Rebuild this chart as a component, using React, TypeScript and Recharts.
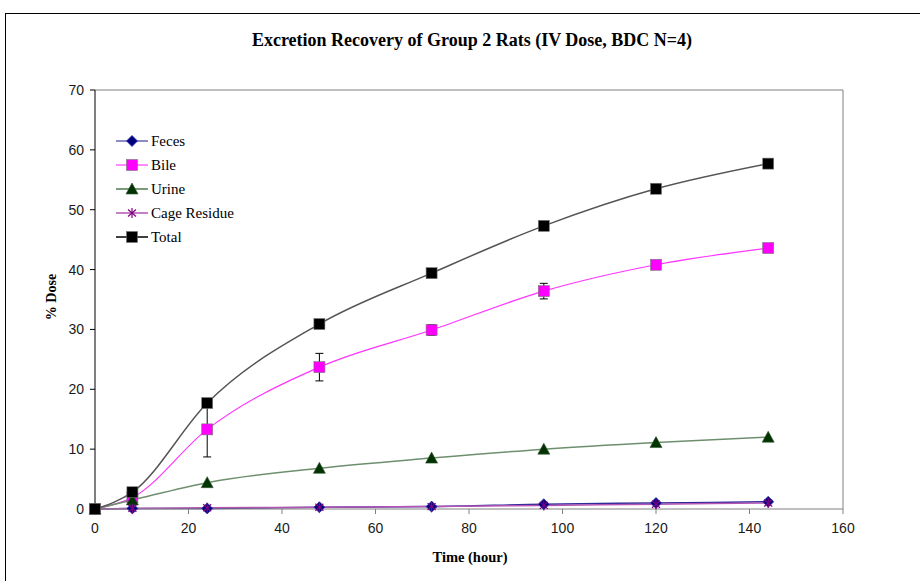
import React from 'react';
import { LineChart, Line, XAxis, YAxis, ErrorBar, ReferenceLine } from 'recharts';

// sampling times (hours) and cumulative % of dose recovered
const hours = [0, 8, 24, 48, 72, 96, 120, 144];
const feces = [0, 0.1, 0.1, 0.3, 0.4, 0.8, 1.0, 1.2];
const bile = [0, 1.9, 13.3, 23.7, 29.9, 36.4, 40.8, 43.6];
const bileSd = [0, 0, 4.6, 2.3, 0.9, 1.3, 0.4, 0.3];
const urine = [0, 1.5, 4.4, 6.8, 8.5, 10.0, 11.1, 12.0];
const cageResidue = [0, 0.1, 0.2, 0.3, 0.4, 0.6, 0.8, 1.0];
const total = [0, 2.8, 17.7, 30.9, 39.4, 47.3, 53.5, 57.7];

const xTicks = [0, 20, 40, 60, 80, 100, 120, 140, 160];
const yTicks = [0, 10, 20, 30, 40, 50, 60, 70];

const data = hours.map((h, i) => ({
  hour: h,
  feces: feces[i],
  bile: bile[i],
  bileSd: bileSd[i],
  urine: urine[i],
  cage: cageResidue[i],
  total: total[i],
}));

type Shape = 'diamond' | 'square' | 'triangle' | 'star';

interface SeriesDef {
  key: string;
  name: string;
  line: string;
  legendLine: string;
  fill: string;
  shape: Shape;
}

const series: SeriesDef[] = [
  { key: 'feces', name: 'Feces', line: '#2a2a99', legendLine: '#6666b0', fill: '#000080', shape: 'diamond' },
  { key: 'bile', name: 'Bile', line: '#ff33ff', legendLine: '#ff66ff', fill: '#ff00ff', shape: 'square' },
  { key: 'urine', name: 'Urine', line: '#6e8f6e', legendLine: '#4f7a4f', fill: '#003300', shape: 'triangle' },
  { key: 'cage', name: 'Cage Residue', line: '#b455b4', legendLine: '#b455b4', fill: '#800080', shape: 'star' },
  { key: 'total', name: 'Total', line: '#555555', legendLine: '#000000', fill: '#000000', shape: 'square' },
];

const serif = '"Liberation Serif", "Times New Roman", serif';
const sans = '"Liberation Sans", Tahoma, sans-serif';

const Marker = ({ shape, cx, cy, fill }: { shape: Shape; cx: number; cy: number; fill: string }) => {
  if (cx == null || cy == null) return null;
  switch (shape) {
    case 'diamond':
      return (
        <polygon
          points={`${cx},${cy - 5.5} ${cx + 5.5},${cy} ${cx},${cy + 5.5} ${cx - 5.5},${cy}`}
          fill={fill}
          stroke="#3333aa"
          strokeWidth={0.8}
        />
      );
    case 'square':
      return <rect x={cx - 5.5} y={cy - 5.5} width={11} height={11} fill={fill} stroke="#777" strokeWidth={0.6} />;
    case 'triangle':
      return (
        <polygon
          points={`${cx},${cy - 6} ${cx + 6},${cy + 5} ${cx - 6},${cy + 5}`}
          fill={fill}
          stroke="#335533"
          strokeWidth={0.6}
        />
      );
    case 'star':
      return (
        <g stroke={fill} strokeWidth={1.2}>
          <line x1={cx} y1={cy - 5} x2={cx} y2={cy + 5} />
          <line x1={cx - 4} y1={cy - 3.5} x2={cx + 4} y2={cy + 3.5} />
          <line x1={cx - 4} y1={cy + 3.5} x2={cx + 4} y2={cy - 3.5} />
        </g>
      );
  }
  return null;
};

const makeDot = (s: SeriesDef) => (props: any) => (
  <Marker key={`${s.key}-${props.index}`} shape={s.shape} cx={props.cx} cy={props.cy} fill={s.fill} />
);

const SeriesLegend = () => (
  <div style={{ position: 'absolute', left: 116, top: 129, fontFamily: serif, fontSize: 15, color: '#000' }}>
    {series.map((s) => (
      <div key={s.key} style={{ display: 'flex', alignItems: 'center', height: 24 }}>
        <svg width={32} height={14} style={{ marginRight: 3 }}>
          <line x1={0} y1={7} x2={32} y2={7} stroke={s.legendLine} strokeWidth={1.5} />
          <Marker shape={s.shape} cx={16} cy={7} fill={s.fill} />
        </svg>
        <span>{s.name}</span>
      </div>
    ))}
  </div>
);

export default function App() {
  return (
    <div style={{ position: 'absolute', left: 0, top: 0, width: 920, height: 581, overflow: 'hidden', background: '#fff' }}>
      <div
        style={{
          position: 'absolute',
          left: 5,
          top: 13,
          width: 1000,
          height: 1000,
          border: '1.5px solid #000',
        }}
      />
      <div
        style={{
          position: 'absolute',
          left: 0,
          width: 944,
          top: 30,
          textAlign: 'center',
          fontFamily: serif,
          fontWeight: 'bold',
          fontSize: 18,
        }}
      >
        Excretion Recovery of Group 2 Rats (IV Dose, BDC N=4)
      </div>
      <div
        style={{
          position: 'absolute',
          left: 0,
          width: 940,
          top: 549,
          textAlign: 'center',
          fontFamily: serif,
          fontWeight: 'bold',
          fontSize: 14.5,
        }}
      >
        Time (hour)
      </div>
      <div
        style={{
          position: 'absolute',
          left: 52,
          top: 297,
          transform: 'translate(-50%, -50%) rotate(-90deg)',
          fontFamily: serif,
          fontWeight: 'bold',
          fontSize: 14,
          whiteSpace: 'nowrap',
        }}
      >
        % Dose
      </div>
      <div style={{ position: 'absolute', left: 0, top: 0 }}>
        <LineChart width={920} height={581} data={data} margin={{ top: 90, right: 77, bottom: 32, left: 35 }}>
          <XAxis
            dataKey="hour"
            type="number"
            domain={[0, 160]}
            ticks={xTicks}
            height={40}
            stroke="#808080"
            tickSize={5}
            tickMargin={9}
            tick={{ fill: '#1a1a1a', fontFamily: sans, fontSize: 14 }}
          />
          <YAxis
            type="number"
            domain={[0, 70]}
            ticks={yTicks}
            width={60}
            stroke="#000"
            tickSize={5}
            tickMargin={6}
            tick={{ fill: '#1a1a1a', fontFamily: sans, fontSize: 14 }}
          />
          <ReferenceLine y={70} stroke="#808080" />
          <ReferenceLine x={160} stroke="#808080" />
          {series.map((s) => (
            <Line
              key={s.key}
              dataKey={s.key}
              name={s.name}
              type="monotone"
              stroke={s.line}
              strokeWidth={s.key === 'bile' ? 1.2 : 1.5}
              dot={makeDot(s)}
              activeDot={false}
              isAnimationActive={false}
            >
              {s.key === 'bile' && <ErrorBar dataKey="bileSd" width={4} stroke="#000" strokeWidth={1} direction="y" />}
            </Line>
          ))}
        </LineChart>
      </div>
      <SeriesLegend />
    </div>
  );
}
